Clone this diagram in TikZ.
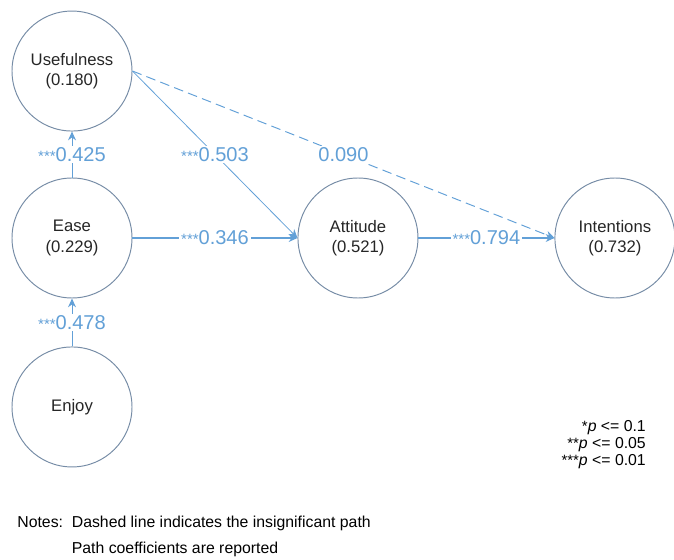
\documentclass[tikz,border=0pt]{standalone}
\usepackage{fontspec}
\setmainfont{Liberation Sans}
\usepackage{xcolor}
\usetikzlibrary{arrows.meta, positioning}

\definecolor{pathblue}{RGB}{98,160,215}
\definecolor{ringgray}{RGB}{118,140,166}
\newcommand{\sigstars}[1]{{\fontsize{8.5pt}{8.5pt}\selectfont #1}}

\begin{document}
\begin{tikzpicture}[
    latent/.style={circle, draw=ringgray, line width=0.55pt, fill=white,
                   minimum size=2.4cm, inner sep=0pt, align=center,
                   font=\fontsize{9.5pt}{11.4pt}\selectfont, text=black!85},
    arr/.style={-{Stealth[length=5pt, width=4.5pt]}, line width=0.55pt, color=pathblue},
    coef/.style={midway, fill=white, inner sep=1pt, text=pathblue,
                 font=\fontsize{11.4pt}{12pt}\selectfont},
    node distance=0.92cm
]
\useasboundingbox (-1.44,4.76) rectangle (12.04,-6.44);

\node[latent] (ease) at (0,0) {Ease\\(0.229)};
\node[latent, above=0.92cm of ease] (useful) {Usefulness\\(0.180)};
\node[latent, below=0.96cm of ease] (enjoy) {Enjoy};
\node[latent, right=3.3cm of ease] (attitude) {Attitude\\(0.521)};
\node[latent, right=2.72cm of attitude] (intent) {Intentions\\(0.732)};

\draw[arr] (ease)   -- node[coef] {\sigstars{***}0.425} (useful);
\draw[arr] (enjoy)  -- node[coef] {\sigstars{***}0.478} (ease);
\draw[arr, line width=0.7pt] (ease) -- node[coef] {\sigstars{***}0.346} (attitude.west);
\draw[arr, line width=0.45pt] (useful.east) -- node[coef] {\sigstars{***}0.503} (attitude.west);
\draw[arr, dash pattern=on 5.5pt off 3pt] (useful.east)
    -- node[coef] {0.090} (intent.west);
\draw[arr, line width=0.7pt] (attitude) -- node[coef] {\sigstars{***}0.794} (intent.west);

% significance legend
\node[anchor=east, align=right, font=\fontsize{9pt}{9.7pt}\selectfont] (legend)
    at (11.6,-4.14)
    {\sigstars{*}\textit{p} <= 0.1\\
     \sigstars{**}\textit{p} <= 0.05\\
     \sigstars{***}\textit{p} <= 0.01};

% notes
\node[anchor=west, inner sep=0pt, font=\fontsize{9pt}{14.8pt}\selectfont] (notes)
    at (-1.1,-5.94)
    {\begin{tabular}{@{}l@{\hspace{5pt}}l@{}}
     Notes: & Dashed line indicates the insignificant path\\
            & Path coefficients are reported
     \end{tabular}};

\end{tikzpicture}
\end{document}
